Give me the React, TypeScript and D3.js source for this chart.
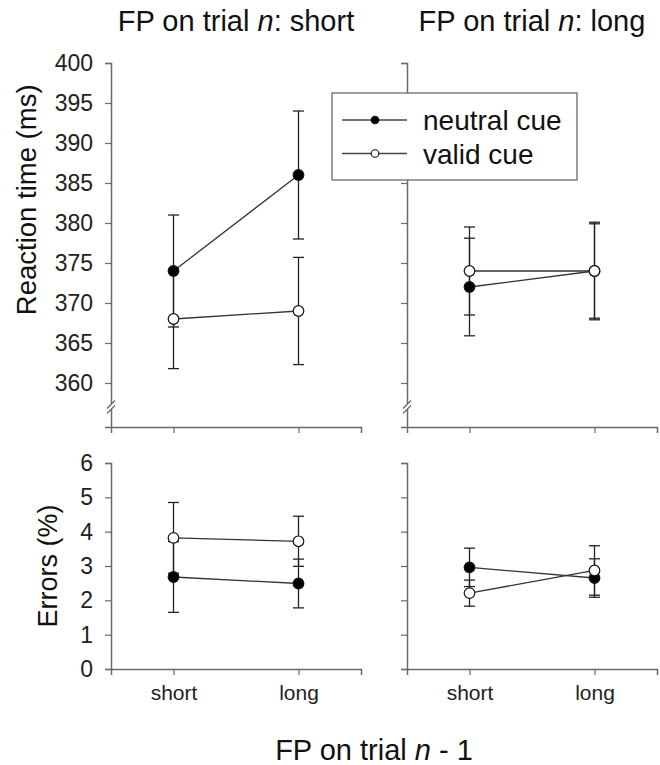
import React, { useEffect, useRef } from 'react';
import * as d3 from 'd3';

// previous-trial FP (x categories)
const prevFP = ['short', 'long'];

// Reaction time (ms), FP on trial n: short
const rtShortNeutral = [374, 386];
const rtShortNeutralErr = [7, 8];
const rtShortValid = [368, 369];
const rtShortValidErr = [6.2, 6.7];

// Reaction time (ms), FP on trial n: long
const rtLongNeutral = [372, 374];
const rtLongNeutralErr = [6.1, 6.1];
const rtLongValid = [374, 374];
const rtLongValidErr = [5.5, 5.9];

// Errors (%), FP on trial n: short
const errShortNeutral = [2.68, 2.49];
const errShortNeutralErr = [1.03, 0.71];
const errShortValid = [3.82, 3.72];
const errShortValidErr = [1.03, 0.73];

// Errors (%), FP on trial n: long
const errLongNeutral = [2.96, 2.65];
const errLongNeutralErr = [0.56, 0.56];
const errLongValid = [2.21, 2.87];
const errLongValidErr = [0.38, 0.72];

const rtTicks = [360, 365, 370, 375, 380, 385, 390, 395, 400];
const errTicks = [0, 1, 2, 3, 4, 5, 6];

const panelTitles = ['short', 'long'];
const legendLabels = ['neutral cue', 'valid cue'];

const FONT = '"Liberation Sans", Arial, Helvetica, sans-serif';
const AXIS = '#6a6a6a';
const INK = '#222';

const App = () => {
  const ref = useRef<SVGSVGElement>(null);

  useEffect(() => {
    const svg = d3.select(ref.current);
    svg.selectAll('*').remove();

    const cols = [[111, 361], [407, 657]];
    const yRT = d3.scaleLinear().domain([354.5, 400]).range([427, 63]);
    const yErr = d3.scaleLinear().domain([0, 6]).range([669, 463]);

    const panels = [
      { col: 0, y: yRT, ticks: rtTicks, neutral: rtShortNeutral, nErr: rtShortNeutralErr, valid: rtShortValid, vErr: rtShortValidErr, brk: true, xLabels: false, yLabels: true },
      { col: 1, y: yRT, ticks: rtTicks, neutral: rtLongNeutral, nErr: rtLongNeutralErr, valid: rtLongValid, vErr: rtLongValidErr, brk: true, xLabels: false, yLabels: false },
      { col: 0, y: yErr, ticks: errTicks, neutral: errShortNeutral, nErr: errShortNeutralErr, valid: errShortValid, vErr: errShortValidErr, brk: false, xLabels: true, yLabels: true },
      { col: 1, y: yErr, ticks: errTicks, neutral: errLongNeutral, nErr: errLongNeutralErr, valid: errLongValid, vErr: errLongValidErr, brk: false, xLabels: true, yLabels: false },
    ];

    panels.forEach(p => {
      const [x0, x1] = cols[p.col];
      const x = d3.scalePoint().domain(prevFP).range([x0, x1]).padding(0.5);
      const y = p.y;
      const g = svg.append('g');
      const yBase = y.range()[0];

      // axes
      const ax = g.append('g')
        .attr('transform', `translate(${x0},0)`)
        .call(d3.axisLeft(y).tickValues(p.ticks).tickFormat(d3.format('d'))
          .tickSizeOuter(0).tickSize(6).tickPadding(12));
      const bx = g.append('g')
        .attr('transform', `translate(0,${yBase})`)
        .call(d3.axisBottom(x).tickSizeOuter(0).tickSize(6).tickPadding(10));
      [ax, bx].forEach(a => {
        a.attr('font-family', FONT);
        a.select('.domain').attr('stroke', AXIS).attr('stroke-width', 1.5);
        a.selectAll('.tick line').attr('stroke', AXIS).attr('stroke-width', 1.2);
        a.selectAll('text').attr('fill', '#222').attr('font-family', FONT);
      });
      ax.attr('font-size', 23);
      bx.attr('font-size', 21);
      ax.selectAll('text').attr('font-size', 23).style('display', p.yLabels ? null : 'none');
      bx.selectAll('text').attr('font-size', 21).style('display', p.xLabels ? null : 'none');

      // axis break
      if (p.brk) {
        const by = y(357);
        g.append('rect').attr('x', x0 - 5).attr('y', by - 3).attr('width', 10).attr('height', 5).attr('fill', '#fff');
        [-2.5, 2.5].forEach(o => {
          g.append('line')
            .attr('x1', x0 - 4).attr('y1', by + o + 4)
            .attr('x2', x0 + 4).attr('y2', by + o - 4)
            .attr('stroke', AXIS).attr('stroke-width', 1.2);
        });
      }

      const series = [
        { vals: p.neutral, errs: p.nErr, fill: '#000' },
        { vals: p.valid, errs: p.vErr, fill: '#fff' },
      ];

      // error bars
      series.forEach(s => {
        s.vals.forEach((v, i) => {
          const cx = x(prevFP[i]) as number;
          const top = y(v + s.errs[i]);
          const bot = y(v - s.errs[i]);
          g.append('line').attr('x1', cx).attr('x2', cx).attr('y1', top).attr('y2', bot)
            .attr('stroke', INK).attr('stroke-width', 1.3);
          [top, bot].forEach(yy => {
            g.append('line').attr('x1', cx - 5.5).attr('x2', cx + 5.5).attr('y1', yy).attr('y2', yy)
              .attr('stroke', INK).attr('stroke-width', 1.3);
          });
        });
      });

      // connecting lines
      const line = d3.line<number>().x((_, i) => x(prevFP[i]) as number).y(d => y(d));
      series.forEach(s => {
        g.append('path').attr('d', line(s.vals)).attr('fill', 'none')
          .attr('stroke', '#333').attr('stroke-width', 1.3);
      });

      // markers
      series.forEach(s => {
        g.selectAll(null).data(s.vals).enter().append('circle')
          .attr('cx', (_, i) => x(prevFP[i]) as number)
          .attr('cy', d => y(d))
          .attr('r', 5.3)
          .attr('fill', s.fill)
          .attr('stroke', '#111').attr('stroke-width', 1.2);
      });
    });

    // panel titles
    panelTitles.forEach((t, i) => {
      const [x0, x1] = cols[i];
      const txt = svg.append('text').attr('x', (x0 + x1) / 2).attr('y', 31)
        .attr('text-anchor', 'middle').attr('font-family', FONT).attr('font-size', 29).attr('fill', '#111');
      txt.append('tspan').text('FP on trial ');
      txt.append('tspan').attr('font-style', 'italic').text('n');
      txt.append('tspan').text(': ' + t);
    });

    // y labels
    svg.append('text').attr('transform', `translate(36,${yRT(382.9)}) rotate(-90)`)
      .attr('text-anchor', 'middle').attr('font-family', FONT).attr('font-size', 27.5).attr('fill', '#111')
      .text('Reaction time (ms)');
    svg.append('text').attr('transform', `translate(57,${yErr(3)}) rotate(-90)`)
      .attr('text-anchor', 'middle').attr('font-family', FONT).attr('font-size', 27).attr('fill', '#111')
      .text('Errors (%)');

    // x label
    const xl = svg.append('text').attr('x', 374).attr('y', 760)
      .attr('text-anchor', 'middle').attr('font-family', FONT).attr('font-size', 29).attr('fill', '#111');
    xl.append('tspan').text('FP on trial ');
    xl.append('tspan').attr('font-style', 'italic').text('n');
    xl.append('tspan').text(' - 1');

    // legend
    const lg = svg.append('g').attr('transform', 'translate(332,93)');
    lg.append('rect').attr('width', 245).attr('height', 87).attr('fill', '#fff')
      .attr('stroke', AXIS).attr('stroke-width', 1.3);
    legendLabels.forEach((lab, i) => {
      const ry = 27 + i * 33.5;
      lg.append('line').attr('x1', 10).attr('x2', 75).attr('y1', ry).attr('y2', ry)
        .attr('stroke', '#444').attr('stroke-width', 1.3);
      lg.append('circle').attr('cx', 43).attr('cy', ry).attr('r', 3.8)
        .attr('fill', i === 0 ? '#000' : '#fff').attr('stroke', '#111').attr('stroke-width', 1.1);
      lg.append('text').attr('x', 91).attr('y', ry + 10).attr('font-family', FONT)
        .attr('font-size', 28).attr('fill', '#111').text(lab);
    });
  }, []);

  return (
    <svg ref={ref} width={660} height={765}
      style={{ position: 'absolute', left: 0, top: 0, background: '#fff', display: 'block' }} />
  );
};

export default App;
